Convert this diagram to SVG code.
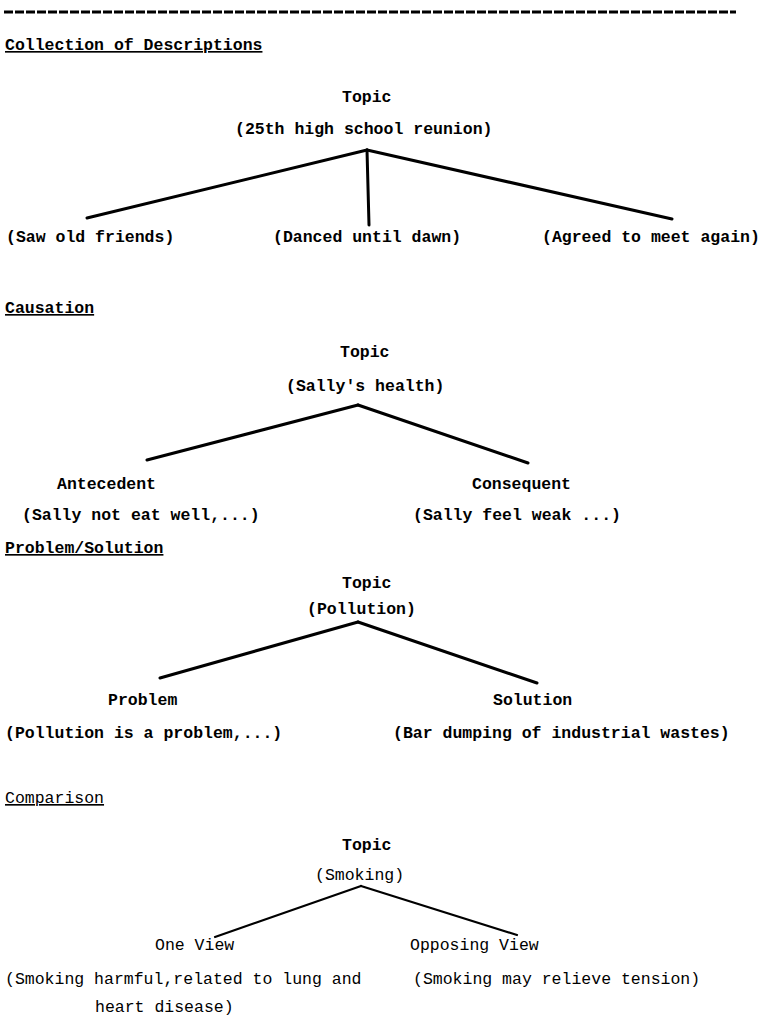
<svg xmlns="http://www.w3.org/2000/svg" width="765" height="1017" viewBox="0 0 765 1017">
<style>
text{font-family:"Liberation Mono","DejaVu Sans Mono",monospace;font-size:16.5px;fill:#000}
.b{font-weight:bold}
.r{font-weight:normal}
.h{text-decoration:underline}
.c{stroke:#000;stroke-width:3;stroke-linecap:round;fill:none}
.t{stroke-width:2.2}
</style>
<rect width="765" height="1017" fill="#fff"/>
<line x1="4" y1="12" x2="736" y2="12" stroke="#000" stroke-width="3" stroke-dasharray="9 2"/>
<g id="connectors">
<line class="c" x1="367" y1="150" x2="87" y2="218"/>
<line class="c" x1="367" y1="150" x2="369" y2="225"/>
<line class="c" x1="367" y1="150" x2="672" y2="219"/>
<line class="c" x1="358" y1="405" x2="147" y2="460"/>
<line class="c" x1="358" y1="405" x2="528" y2="463"/>
<line class="c" x1="358" y1="622" x2="160" y2="678"/>
<line class="c" x1="358" y1="622" x2="537" y2="683"/>
<line class="c t" x1="361" y1="886" x2="215" y2="937"/>
<line class="c t" x1="361" y1="886" x2="517" y2="935"/>
</g>
<g id="h1"><text class="b h" x="5" y="50">Collection of Descriptions</text></g>
<g id="n1-topic"><text class="b" x="342" y="102">Topic</text><text class="b" x="235" y="134">(25th high school reunion)</text></g>
<g id="n1-a"><text class="b" x="6" y="242">(Saw old friends)</text></g>
<g id="n1-b"><text class="b" x="273" y="242">(Danced until dawn)</text></g>
<g id="n1-c"><text class="b" x="542" y="242">(Agreed to meet again)</text></g>
<g id="h2"><text class="b h" x="5" y="313">Causation</text></g>
<g id="n2-topic"><text class="b" x="340" y="357">Topic</text><text class="b" x="286" y="391">(Sally's health)</text></g>
<g id="n2-a"><text class="b" x="57" y="489">Antecedent</text><text class="b" x="22" y="520">(Sally not eat well,...)</text></g>
<g id="n2-b"><text class="b" x="472" y="489">Consequent</text><text class="b" x="413" y="520">(Sally feel weak ...)</text></g>
<g id="h3"><text class="b h" x="5" y="553">Problem/Solution</text></g>
<g id="n3-topic"><text class="b" x="342" y="588">Topic</text><text class="b" x="307" y="614">(Pollution)</text></g>
<g id="n3-a"><text class="b" x="108" y="705">Problem</text><text class="b" x="5" y="738">(Pollution is a problem,...)</text></g>
<g id="n3-b"><text class="b" x="493" y="705">Solution</text><text class="b" x="393" y="738">(Bar dumping of industrial wastes)</text></g>
<g id="h4"><text class="r h" x="5" y="803">Comparison</text></g>
<g id="n4-topic"><text class="b" x="342" y="850">Topic</text><text class="r" x="315" y="880">(Smoking)</text></g>
<g id="n4-a"><text class="r" x="155" y="950">One View</text><text class="r" x="5" y="984">(Smoking harmful,related to lung and</text><text class="r" x="95" y="1012">heart disease)</text></g>
<g id="n4-b"><text class="r" x="410" y="950">Opposing View</text><text class="r" x="413" y="984">(Smoking may relieve tension)</text></g>
</svg>
